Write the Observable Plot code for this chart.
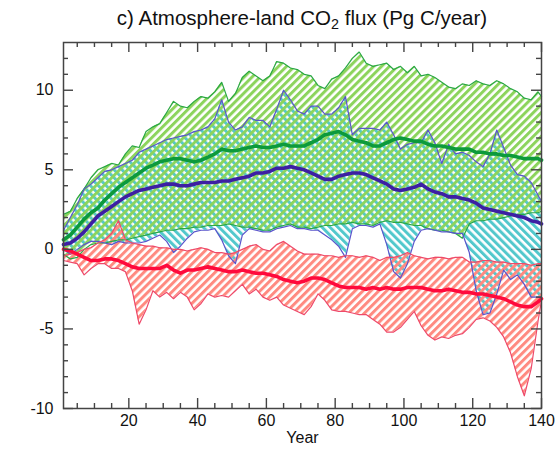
<!DOCTYPE html>
<html><head><meta charset="utf-8">
<script src="https://cdn.jsdelivr.net/npm/d3@7"></script>
<script src="https://cdn.jsdelivr.net/npm/@observablehq/plot@0.6"></script>
<style>
body{margin:0;background:#fff;font-family:"Liberation Sans",Arial,sans-serif;}
#wrap{width:556px;}
#title{height:34px;box-sizing:border-box;padding-top:2px;padding-left:63px;width:541px;text-align:center;font-size:20.5px;line-height:32px;color:#111;white-space:nowrap;}
#title sub{font-size:0.7em;line-height:0;vertical-align:-0.25em;}
svg{display:block}
</style></head><body>
<div id="wrap"><div id="title">c) Atmosphere-land CO<sub>2</sub> flux (Pg C/year)</div><div id="chart"></div></div>
<script>
const years = [1,3,5,7,9,11,13,15,17,19,21,23,25,27,29,31,33,35,37,39,41,43,45,47,49,51,53,55,57,59,61,63,65,67,69,71,73,75,77,79,81,83,85,87,89,91,93,95,97,99,101,103,105,107,109,111,113,115,117,119,121,123,125,127,129,131,133,135,137,139,140];

const greenUpper = [2.2,2.4,3.2,3.8,4.5,5.0,5.2,5.4,5.3,6.0,
 6.5,6.4,7.4,7.7,7.9,8.6,9.3,9.0,8.9,9.3,
 9.6,9.5,9.9,10.5,9.3,9.8,10.8,11.2,10.9,10.6,
 10.9,11.8,11.7,11.4,11.3,11.0,10.9,10.3,10.1,10.7,
 10.9,11.4,12.0,12.4,11.7,11.5,11.6,11.7,11.3,11.5,
 11.1,11.5,10.9,11.0,10.8,10.5,10.2,10.1,10.4,10.3,
 10.6,10.4,10.3,10.6,10.4,10.1,9.9,9.5,9.4,9.9,
 9.6];
const greenLower = [-0.3,-0.6,-0.5,0.0,0.3,0.4,0.4,0.5,0.6,0.6,
 0.7,0.8,0.9,1.0,1.1,1.2,1.2,1.3,1.3,1.4,
 1.4,1.5,1.5,1.5,1.6,1.5,1.4,1.4,1.3,1.2,
 1.2,1.4,1.5,1.6,1.4,1.4,1.3,1.4,1.5,1.5,
 1.6,1.6,1.7,1.6,1.6,1.5,1.7,1.8,1.7,1.7,
 1.6,1.5,1.5,1.3,1.2,1.2,1.1,1.0,0.7,1.6,
 1.8,1.8,1.9,1.9,2.0,2.1,2.2,2.2,2.3,2.3,
 2.4];
const greenMean = [0.6,0.9,1.4,1.9,2.3,2.6,3.1,3.5,3.9,4.2,
 4.5,4.8,5.1,5.3,5.5,5.6,5.7,5.7,5.6,5.5,
 5.6,5.8,6.0,6.3,6.2,6.2,6.3,6.4,6.5,6.4,
 6.4,6.5,6.6,6.5,6.5,6.5,6.7,6.9,7.2,7.3,
 7.4,7.2,6.9,6.8,6.7,6.5,6.5,6.7,6.9,7.0,
 6.9,6.8,6.8,6.6,6.5,6.5,6.4,6.3,6.3,6.3,
 6.1,6.1,6.0,6.0,5.9,5.9,5.8,5.7,5.7,5.7,
 5.6];

const blueUpper = [1.2,2.0,2.8,3.8,4.1,4.5,4.9,5.0,5.2,5.4,
 5.6,6.1,6.3,6.5,6.7,6.9,7.0,7.1,7.2,7.4,
 7.5,7.7,8.2,9.4,8.0,7.5,7.7,8.3,8.1,8.1,
 7.7,8.8,10.0,9.4,8.7,8.5,9.0,9.0,8.5,8.5,
 8.9,9.6,7.2,7.6,7.6,7.6,7.5,8.0,7.2,6.3,
 6.6,6.7,6.7,7.5,6.7,5.4,6.6,6.0,6.1,5.9,
 5.5,5.2,6.0,7.5,6.4,5.3,4.7,4.6,4.2,3.4,
 3.0];
const blueLower = [0.0,-0.3,0.0,0.3,0.5,0.5,0.4,0.3,0.5,0.4,
 0.4,0.4,0.5,0.7,0.9,0.5,-0.2,0.2,0.7,1.1,
 1.2,1.2,1.3,0.6,-0.4,-0.9,0.9,1.3,1.2,1.1,
 1.1,1.3,1.4,1.5,1.3,1.3,1.2,1.2,0.9,0.6,
 0.2,-0.5,1.3,1.5,1.5,1.4,1.6,0.3,-1.4,-1.8,
 -0.9,0.5,1.2,1.3,1.2,1.1,1.1,1.0,1.0,-0.2,
 -2.6,-4.1,-4.0,-2.8,-1.3,-1.9,-1.6,-2.2,-3.0,-3.0,
 -3.0];
const blueMean = [0.3,0.4,0.7,1.1,1.6,2.1,2.4,2.7,3.0,3.3,
 3.5,3.7,3.8,3.9,4.0,4.1,4.1,4.0,4.0,4.1,
 4.2,4.2,4.2,4.3,4.3,4.4,4.5,4.6,4.8,4.8,
 4.9,5.1,5.1,5.2,5.1,5.0,4.8,4.6,4.4,4.4,
 4.6,4.7,4.8,4.8,4.7,4.5,4.3,4.1,3.8,3.7,
 3.8,3.9,4.1,3.8,3.6,3.5,3.3,3.3,3.2,3.1,
 2.9,2.6,2.5,2.4,2.3,2.2,2.1,2.0,1.8,1.7,
 1.6];

const redUpper = [-0.4,-0.3,-0.2,0.0,0.1,0.4,0.6,1.0,1.8,0.6,
 0.4,0.3,0.2,0.2,0.1,0.1,0.0,0.0,-0.1,0.0,
 0.1,0.0,-0.2,-0.2,-0.3,-0.2,0.0,0.2,0.3,0.0,
 -0.1,0.3,0.5,0.2,-0.1,-0.3,-0.3,-0.3,-0.4,-0.4,
 -0.5,-0.4,-0.4,-0.5,-0.4,-0.5,-0.7,-0.5,-0.5,-0.4,
 -0.2,-0.4,-0.5,-0.6,-0.5,-0.5,-0.6,-0.5,-0.5,-0.8,
 -0.8,-0.7,-0.7,-0.8,-0.8,-0.9,-0.9,-0.9,-1.0,-0.9,
 -0.9];
const redLower = [-0.7,-0.8,-0.9,-1.6,-1.2,-0.9,-0.9,-1.2,-1.2,-1.4,
 -2.6,-4.7,-3.8,-2.6,-3.0,-2.7,-3.1,-2.7,-3.0,-3.8,
 -3.4,-2.8,-3.0,-2.9,-3.0,-2.6,-2.2,-2.8,-2.5,-3.0,
 -3.2,-3.0,-3.5,-3.7,-3.9,-4.1,-3.6,-2.8,-3.2,-3.8,
 -3.9,-3.9,-4.0,-4.1,-4.1,-4.4,-4.7,-5.2,-5.2,-4.9,
 -4.4,-3.9,-4.8,-5.4,-5.7,-5.5,-5.6,-5.4,-5.3,-4.9,
 -4.4,-4.3,-4.5,-4.9,-5.5,-6.5,-8.0,-9.2,-7.5,-4.5,
 -3.2];
const redMean = [0.0,-0.1,-0.3,-0.5,-0.7,-0.7,-0.6,-0.6,-0.7,-0.9,
 -1.1,-1.2,-1.2,-1.2,-1.2,-1.0,-1.3,-1.5,-1.3,-1.3,
 -1.2,-1.1,-1.2,-1.3,-1.4,-1.4,-1.3,-1.4,-1.5,-1.5,
 -1.6,-1.7,-1.9,-2.0,-2.1,-2.0,-1.8,-1.8,-1.9,-2.1,
 -2.3,-2.4,-2.4,-2.4,-2.5,-2.4,-2.5,-2.4,-2.5,-2.5,
 -2.4,-2.4,-2.4,-2.5,-2.6,-2.6,-2.5,-2.6,-2.7,-2.7,
 -2.8,-2.8,-2.9,-3.0,-3.1,-3.3,-3.5,-3.6,-3.6,-3.3,
 -3.1];

const xMajor = [20,40,60,80,100,120,140];
const xMinor = [5,10,15,25,30,35,45,50,55,65,70,75,85,90,95,105,110,115,125,130,135];
const yMajor = [-10,-5,0,5,10];
const yMinor = [-9,-8,-7,-6,-4,-3,-2,-1,1,2,3,4,6,7,8,9,11,12];

const rows = years.map((year, i) => ({
  year,
  gu: greenUpper[i], gl: greenLower[i], gm: greenMean[i],
  bu: blueUpper[i], bl: blueLower[i], bm: blueMean[i],
  ru: redUpper[i], rl: redLower[i], rm: redMean[i]
}));

const W = 556, H = 416, ml = 63, mr = 15, mt = 8, mb = 42;
const innerW = W - ml - mr, innerH = H - mt - mb;
const axisColor = "#444";

const svg = Plot.plot({
  width: W, height: H,
  marginLeft: ml, marginRight: mr, marginTop: mt, marginBottom: mb,
  x: {domain: [1, 140]},
  y: {domain: [-10, 13]},
  style: {fontFamily: "'Liberation Sans', Arial, sans-serif", fontSize: "16px", color: "#111", background: "white"},
  marks: [
    Plot.areaY(rows, {x: "year", y1: "bl", y2: "bu", fill: "url(#hatchCyan)"}),
    Plot.areaY(rows, {x: "year", y1: "gl", y2: "gu", fill: "url(#hatchGreen)"}),
    Plot.areaY(rows, {x: "year", y1: "rl", y2: "ru", fill: "url(#hatchRed)"}),
    Plot.lineY(rows, {x: "year", y: "gu", stroke: "#2aa845", strokeWidth: 1.2}),
    Plot.lineY(rows, {x: "year", y: "gl", stroke: "#2aa845", strokeWidth: 1.2}),
    Plot.lineY(rows, {x: "year", y: "bu", stroke: "#5a55cc", strokeWidth: 1.2}),
    Plot.lineY(rows, {x: "year", y: "bl", stroke: "#5a55cc", strokeWidth: 1.2}),
    Plot.lineY(rows, {x: "year", y: "ru", stroke: "#ee4a6a", strokeWidth: 1.2}),
    Plot.lineY(rows, {x: "year", y: "rl", stroke: "#ee4a6a", strokeWidth: 1.2}),
    Plot.lineY(rows, {x: "year", y: "gm", stroke: "#0c9a3c", strokeWidth: 3.6}),
    Plot.lineY(rows, {x: "year", y: "bm", stroke: "#3d1fa3", strokeWidth: 3.6}),
    Plot.lineY(rows, {x: "year", y: "rm", stroke: "#ff0a3c", strokeWidth: 3.6}),
    Plot.tickX(xMajor, {x: d => d, insetTop: innerH - 10, stroke: axisColor, strokeWidth: 1.4}),
    Plot.tickX(xMajor, {x: d => d, insetBottom: innerH - 10, stroke: axisColor, strokeWidth: 1.4}),
    Plot.tickX(xMinor, {x: d => d, insetTop: innerH - 5, stroke: axisColor, strokeWidth: 1.4}),
    Plot.tickX(xMinor, {x: d => d, insetBottom: innerH - 5, stroke: axisColor, strokeWidth: 1.4}),
    Plot.tickY(yMajor, {y: d => d, insetRight: innerW - 10, stroke: axisColor, strokeWidth: 1.4}),
    Plot.tickY(yMajor, {y: d => d, insetLeft: innerW - 10, stroke: axisColor, strokeWidth: 1.4}),
    Plot.tickY(yMinor, {y: d => d, insetRight: innerW - 5, stroke: axisColor, strokeWidth: 1.4}),
    Plot.tickY(yMinor, {y: d => d, insetLeft: innerW - 5, stroke: axisColor, strokeWidth: 1.4}),
    Plot.frame({stroke: axisColor, strokeWidth: 1.5}),
    Plot.axisX(xMajor, {anchor: "bottom", tickSize: 0, tickPadding: 6, fontSize: 16, label: null, tickFormat: d => String(d)}),
    Plot.axisY(yMajor, {anchor: "left", tickSize: 0, tickPadding: 10, fontSize: 16, label: null, tickFormat: d => String(d)}),
    Plot.text(["Year"], {frameAnchor: "bottom", dy: 34, text: d => d, fontSize: 16, fill: "#111"})
  ]
});

const defs = d3.select(svg).insert("defs", ":first-child");
function hatch(id, color, angle) {
  const s = 5.6;
  const p = defs.append("pattern")
    .attr("id", id)
    .attr("patternUnits", "userSpaceOnUse")
    .attr("width", s).attr("height", s)
    .attr("patternTransform", `rotate(${angle})`);
  p.append("rect").attr("width", 3.0).attr("height", s).attr("fill", color);
}
hatch("hatchGreen", "#8cd45c", 45);
hatch("hatchCyan", "#52c8cc", -45);
hatch("hatchRed", "#ff8a80", 45);

document.getElementById("chart").appendChild(svg);
</script>
</body></html>
